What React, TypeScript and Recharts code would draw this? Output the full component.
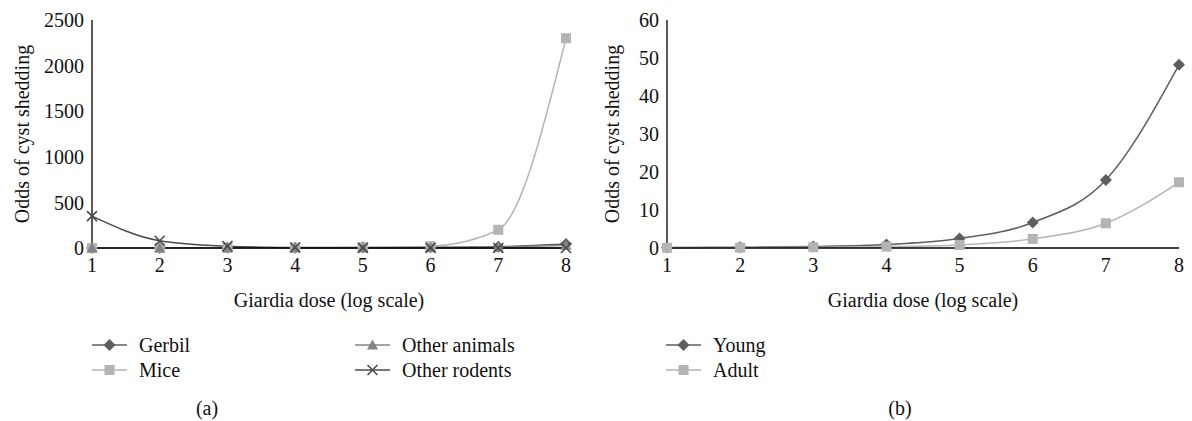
import React from 'react';
import { LineChart, Line, XAxis, YAxis } from 'recharts';

const doses = [1, 2, 3, 4, 5, 6, 7, 8];
const gerbil = [0.5, 1, 2, 3, 5, 8, 15, 45];
const mice = [0.1, 0.3, 1, 3, 8, 20, 200, 2300];
const otherAnimals = [0.5, 1, 2, 3, 4, 6, 10, 30];
const otherRodents = [350, 80, 20, 6, 2, 1, 0.5, 0.2];
const young = [0.1, 0.2, 0.4, 0.9, 2.5, 6.7, 17.9, 48.2];
const adult = [0.05, 0.1, 0.2, 0.35, 0.8, 2.4, 6.5, 17.3];
const leftYTicks = [0, 500, 1000, 1500, 2000, 2500];
const rightYTicks = [0, 10, 20, 30, 40, 50, 60];

const leftData = doses.map((d, i) => ({
  dose: d,
  gerbil: gerbil[i],
  mice: mice[i],
  otherAnimals: otherAnimals[i],
  otherRodents: otherRodents[i],
}));
const rightData = doses.map((d, i) => ({ dose: d, young: young[i], adult: adult[i] }));

const C_DARK = '#5e5e5e';
const C_LIGHT = '#b4b4b4';
const C_MID = '#848484';
const C_ROD = '#4a4a4a';
const FONT = '"Liberation Serif", "Times New Roman", serif';
const FS = 20;

type Shape = 'diamond' | 'square' | 'triangle' | 'cross';

function Marker({ shape, cx, cy, color }: { shape: Shape; cx: number; cy: number; color: string }) {
  if (cx == null || cy == null) return null;
  const s = 6;
  if (shape === 'diamond')
    return <polygon points={`${cx},${cy - s} ${cx + s},${cy} ${cx},${cy + s} ${cx - s},${cy}`} fill={color} />;
  if (shape === 'square')
    return <rect x={cx - 5} y={cy - 5} width={10} height={10} fill={color} />;
  if (shape === 'triangle')
    return <polygon points={`${cx},${cy - 5.5} ${cx + 5.5},${cy + 4.5} ${cx - 5.5},${cy + 4.5}`} fill={color} />;
  return (
    <g stroke={color} strokeWidth={1.6}>
      <line x1={cx - 5} y1={cy - 5} x2={cx + 5} y2={cy + 5} />
      <line x1={cx - 5} y1={cy + 5} x2={cx + 5} y2={cy - 5} />
    </g>
  );
}

const dotFn = (shape: Shape, color: string) => (props: any) => (
  <Marker key={`${shape}-${props.index}`} shape={shape} cx={props.cx} cy={props.cy} color={color} />
);

function LegendItem({ shape, color, label, left, top }: { shape: Shape; color: string; label: string; left: number; top: number }) {
  return (
    <div style={{ position: 'absolute', left, top, height: 22, display: 'flex', alignItems: 'center' }}>
      <svg width={36} height={22} style={{ display: 'block' }}>
        <line x1={0} y1={11} x2={35} y2={11} stroke={color} strokeWidth={1.5} />
        <Marker shape={shape} cx={17.5} cy={11} color={color} />
      </svg>
      <span style={{ marginLeft: 11, fontSize: FS, color: '#111', lineHeight: '22px', whiteSpace: 'nowrap' }}>{label}</span>
    </div>
  );
}

const tickStyle = { fontSize: FS, fill: '#111', fontFamily: FONT };

export default function App() {
  return (
    <div style={{ position: 'absolute', left: 0, top: 0, width: 1192, height: 421, background: '#fff', fontFamily: FONT }}>
      <div style={{ position: 'absolute', left: 0, top: 0 }}>
        <LineChart width={596} height={320} data={leftData} margin={{ top: 20, right: 30, left: 0, bottom: 0 }}>
          <XAxis
            dataKey="dose"
            type="number"
            domain={[1, 8]}
            ticks={doses}
            tickLine={false}
            axisLine={{ stroke: '#000', strokeWidth: 1.3 }}
            tick={tickStyle}
            tickMargin={4}
            height={72}
            label={{ value: 'Giardia dose (log scale)', position: 'insideBottom', offset: 13, style: { fontSize: FS, fill: '#111', fontFamily: FONT } }}
          />
          <YAxis
            type="number"
            domain={[0, 2500]}
            ticks={leftYTicks}
            tickLine={false}
            axisLine={{ stroke: '#000', strokeWidth: 1.3 }}
            tick={tickStyle}
            width={92}
            label={{ value: 'Odds of cyst shedding', angle: -90, position: 'insideLeft', offset: 22, style: { textAnchor: 'middle', fontSize: FS, fill: '#111', fontFamily: FONT } }}
          />
          <Line dataKey="gerbil" type="monotone" stroke={C_DARK} strokeWidth={1.5} dot={dotFn('diamond', C_DARK)} isAnimationActive={false} />
          <Line dataKey="mice" type="monotone" stroke={C_LIGHT} strokeWidth={1.5} dot={dotFn('square', C_LIGHT)} isAnimationActive={false} />
          <Line dataKey="otherAnimals" type="monotone" stroke={C_MID} strokeWidth={1.5} dot={dotFn('triangle', C_MID)} isAnimationActive={false} />
          <Line dataKey="otherRodents" type="monotone" stroke={C_ROD} strokeWidth={1.5} dot={dotFn('cross', C_ROD)} isAnimationActive={false} />
        </LineChart>
      </div>
      <div style={{ position: 'absolute', left: 596, top: 0 }}>
        <LineChart width={596} height={320} data={rightData} margin={{ top: 20, right: 13, left: 0, bottom: 0 }}>
          <XAxis
            dataKey="dose"
            type="number"
            domain={[1, 8]}
            ticks={doses}
            tickLine={false}
            axisLine={{ stroke: '#000', strokeWidth: 1.3 }}
            tick={tickStyle}
            tickMargin={4}
            height={72}
            label={{ value: 'Giardia dose (log scale)', position: 'insideBottom', offset: 13, style: { fontSize: FS, fill: '#111', fontFamily: FONT } }}
          />
          <YAxis
            type="number"
            domain={[0, 60]}
            ticks={rightYTicks}
            tickLine={false}
            axisLine={{ stroke: '#000', strokeWidth: 1.3 }}
            tick={tickStyle}
            width={71}
            label={{ value: 'Odds of cyst shedding', angle: -90, position: 'insideLeft', offset: 16, style: { textAnchor: 'middle', fontSize: FS, fill: '#111', fontFamily: FONT } }}
          />
          <Line dataKey="young" type="monotone" stroke={C_DARK} strokeWidth={1.5} dot={dotFn('diamond', C_DARK)} isAnimationActive={false} />
          <Line dataKey="adult" type="monotone" stroke={C_LIGHT} strokeWidth={1.5} dot={dotFn('square', C_LIGHT)} isAnimationActive={false} />
        </LineChart>
      </div>

      <LegendItem shape="diamond" color={C_DARK} label="Gerbil" left={92} top={334} />
      <LegendItem shape="square" color={C_LIGHT} label="Mice" left={92} top={359} />
      <LegendItem shape="triangle" color={C_MID} label="Other animals" left={355} top={334} />
      <LegendItem shape="cross" color={C_ROD} label="Other rodents" left={355} top={359} />
      <LegendItem shape="diamond" color={C_DARK} label="Young" left={666} top={334} />
      <LegendItem shape="square" color={C_LIGHT} label="Adult" left={666} top={359} />

      <div style={{ position: 'absolute', left: 190, top: 396, width: 34, textAlign: 'center', fontSize: FS, color: '#111', lineHeight: '24px' }}>(a)</div>
      <div style={{ position: 'absolute', left: 883, top: 396, width: 34, textAlign: 'center', fontSize: FS, color: '#111', lineHeight: '24px' }}>(b)</div>
    </div>
  );
}
